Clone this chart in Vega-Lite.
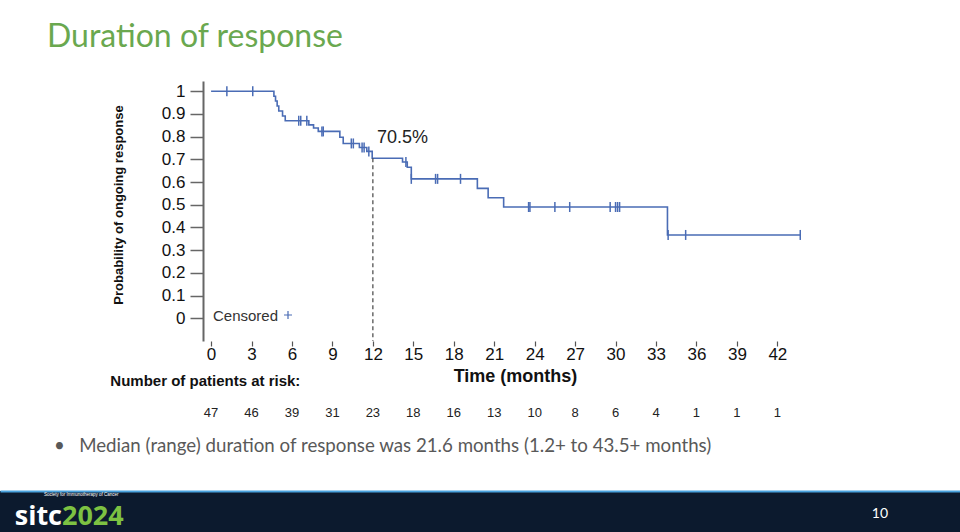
{
  "$schema": "https://vega.github.io/schema/vega-lite/v6.json",
  "background": "white",
  "padding": {"left": 0, "right": 0, "top": 21, "bottom": 0},
  "autosize": {"type": "pad"},
  "config": {"view": {"stroke": null}, "font": "Liberation Sans", "concat": {"spacing": 0}},
  "title": {"text": "Duration of response", "anchor": "start", "frame": "bounds", "dx": 47, "offset": 2, "fontSize": 32, "font": "Lato", "fontWeight": "normal", "color": "#6aa84f", "baseline": "alphabetic"},
  "datasets": {
    "km": [
      {"time": 0, "surv": 1}, {"time": 4.66, "surv": 0.978}, {"time": 4.78, "surv": 0.957}, {"time": 4.9, "surv": 0.935},
      {"time": 5.02, "surv": 0.913}, {"time": 5.3, "surv": 0.891}, {"time": 5.5, "surv": 0.87}, {"time": 7.25, "surv": 0.852},
      {"time": 7.6, "surv": 0.838}, {"time": 7.95, "surv": 0.823}, {"time": 9.55, "surv": 0.797}, {"time": 9.8, "surv": 0.77},
      {"time": 11.0, "surv": 0.752}, {"time": 11.55, "surv": 0.735}, {"time": 11.95, "surv": 0.705}, {"time": 14.2, "surv": 0.688},
      {"time": 14.55, "surv": 0.665}, {"time": 14.85, "surv": 0.614}, {"time": 19.75, "surv": 0.572}, {"time": 20.55, "surv": 0.531},
      {"time": 21.7, "surv": 0.49}, {"time": 33.85, "surv": 0.367}, {"time": 43.7, "surv": 0.367}
    ],
    "cens": [
      {"time": 1.17, "surv": 1, "status": "Censored"}, {"time": 3.09, "surv": 1, "status": "Censored"},
      {"time": 6.5, "surv": 0.87, "status": "Censored"}, {"time": 6.65, "surv": 0.87, "status": "Censored"}, {"time": 7.1, "surv": 0.87, "status": "Censored"},
      {"time": 8.22, "surv": 0.823, "status": "Censored"}, {"time": 8.32, "surv": 0.823, "status": "Censored"},
      {"time": 10.4, "surv": 0.77, "status": "Censored"}, {"time": 10.55, "surv": 0.77, "status": "Censored"},
      {"time": 11.2, "surv": 0.752, "status": "Censored"}, {"time": 11.35, "surv": 0.752, "status": "Censored"}, {"time": 11.7, "surv": 0.735, "status": "Censored"},
      {"time": 14.45, "surv": 0.688, "status": "Censored"}, {"time": 14.85, "surv": 0.614, "status": "Censored"},
      {"time": 16.65, "surv": 0.614, "status": "Censored"}, {"time": 16.8, "surv": 0.614, "status": "Censored"}, {"time": 18.5, "surv": 0.614, "status": "Censored"},
      {"time": 23.55, "surv": 0.49, "status": "Censored"}, {"time": 23.65, "surv": 0.49, "status": "Censored"}, {"time": 25.5, "surv": 0.49, "status": "Censored"},
      {"time": 26.6, "surv": 0.49, "status": "Censored"}, {"time": 29.6, "surv": 0.49, "status": "Censored"}, {"time": 30.0, "surv": 0.49, "status": "Censored"},
      {"time": 30.15, "surv": 0.49, "status": "Censored"}, {"time": 30.3, "surv": 0.49, "status": "Censored"},
      {"time": 33.9, "surv": 0.367, "status": "Censored"}, {"time": 35.2, "surv": 0.367, "status": "Censored"}, {"time": 43.7, "surv": 0.367, "status": "Censored"}
    ],
    "annot": [{"time": 12, "surv": 0.705, "label": "70.5%"}],
    "risk": [
      {"time": 0, "n": 47}, {"time": 3, "n": 46}, {"time": 6, "n": 39}, {"time": 9, "n": 31}, {"time": 12, "n": 23},
      {"time": 15, "n": 18}, {"time": 18, "n": 16}, {"time": 21, "n": 13}, {"time": 24, "n": 10}, {"time": 27, "n": 8},
      {"time": 30, "n": 6}, {"time": 33, "n": 4}, {"time": 36, "n": 1}, {"time": 39, "n": 1}, {"time": 42, "n": 1}
    ],
    "footer": [
      {"slot": "logo", "part": "sitc"}, {"slot": "logo", "part": "2024"},
      {"slot": "logo", "part": "Society for Immunotherapy of Cancer"}, {"slot": "page", "part": "10"}
    ]
  },
  "resolve": {"scale": {"x": "independent", "y": "independent", "color": "independent"}},
  "spacing": 14,
  "vconcat": [
    {
      "spacing": 0,
      "resolve": {"scale": {"x": "independent", "y": "independent"}},
      "hconcat": [
        {"width": 110, "height": 10, "data": {"values": []}, "mark": "point", "encoding": {}},
        {
          "bounds": "flush",
          "spacing": 62,
          "vconcat": [
            {
              "width": 604,
              "height": 260,
              "encoding": {
                "x": {"field": "time", "type": "quantitative",
                  "scale": {"domain": [-0.6, 44.2], "nice": false, "zero": false},
                  "axis": {"values": [0, 3, 6, 9, 12, 15, 18, 21, 24, 27, 30, 33, 36, 39, 42], "domain": false, "grid": false,
                    "tickSize": 5, "tickColor": "#555", "tickWidth": 1.2, "labelFontSize": 17, "labelColor": "#111", "labelPadding": 0,
                    "title": "Time (months)", "titleFontSize": 18, "titleFontWeight": "bold", "titleColor": "#111",
                    "titleX": 312, "titleY": 35, "titleAlign": "center", "titleBaseline": "middle"}},
                "y": {"field": "surv", "type": "quantitative",
                  "scale": {"domain": [-0.1, 1.045], "nice": false, "zero": false},
                  "axis": {"values": [0, 0.1, 0.2, 0.3, 0.4, 0.5, 0.6, 0.7, 0.8, 0.9, 1], "format": "~g", "grid": false, "labelOverlap": false,
                    "domainColor": "#666", "domainWidth": 2, "tickSize": 13, "tickColor": "#666", "tickWidth": 1.5,
                    "labelFontSize": 17, "labelColor": "#111", "labelPadding": 5,
                    "title": "Probability of ongoing response", "titleFont": "Liberation Sans",
                    "titleFontSize": 13, "titleFontWeight": "bold", "titleColor": "#111",
                    "titleX": -84.7, "titleY": 123.5, "titleAngle": -90, "titleAlign": "center", "titleBaseline": "middle"}}
              },
              "layer": [
                {
                  "data": {"name": "km"},
                  "mark": {"type": "line", "interpolate": "step-after", "color": "#4a6cb5", "strokeWidth": 1.6}
                },
                {
                  "data": {"name": "annot"},
                  "mark": {"type": "rule", "strokeDash": [4, 3], "color": "#444", "strokeWidth": 1.2},
                  "encoding": {"y2": {"datum": -0.1}}
                },
                {
                  "data": {"name": "annot"},
                  "mark": {"type": "text", "align": "left", "baseline": "middle", "dx": 4, "dy": -20, "fontSize": 18, "color": "#222"},
                  "encoding": {"text": {"field": "label"}}
                },
                {
                  "data": {"name": "cens"},
                  "mark": {"type": "point", "shape": "M0,-1V1", "size": 100, "filled": false, "strokeWidth": 1.5, "opacity": 1},
                  "encoding": {
                    "color": {"field": "status", "type": "nominal", "scale": {"range": ["#4a6cb5"]},
                      "legend": {"title": "Censored", "titleOrient": "left", "titleFontSize": 15, "titleFontWeight": "normal", "titleColor": "#333",
                        "titlePadding": 4, "titleBaseline": "middle",
                        "orient": "none", "legendX": 213, "legendY": 229, "padding": 0,
                        "symbolType": "M-1,0H1M0,-1V1", "symbolSize": 64, "symbolStrokeWidth": 1.2, "symbolStrokeColor": "#8ea3d4",
                        "labelExpr": "''", "labelFontSize": 1, "labelOffset": 0}}
                  }
                }
              ]
            },
            {
              "width": 604,
              "height": 20,
              "data": {"name": "risk"},
              "title": {"text": "Number of patients at risk:", "anchor": "start", "frame": "group", "dx": -92.7, "offset": 14,
                "fontSize": 15, "fontWeight": "bold", "color": "#111", "font": "Liberation Sans"},
              "mark": {"type": "text", "fontSize": 13, "color": "#222", "baseline": "middle"},
              "encoding": {
                "x": {"field": "time", "type": "quantitative", "scale": {"domain": [-0.6, 44.2], "nice": false, "zero": false}, "axis": null},
                "text": {"field": "n", "type": "quantitative"}
              }
            }
          ]
        }
      ]
    },
    {
      "width": 960,
      "height": 42,
      "view": {"fill": "#0c1a2e", "stroke": null},
      "data": {"name": "footer"},
      "title": {"text": "•\u00a0\u00a0\u00a0Median (range) duration of response was 21.6 months (1.2+ to 43.5+ months)",
        "anchor": "start", "frame": "group", "dx": 54, "offset": 16, "fontSize": 18.7, "font": "Lato", "fontWeight": "normal",
        "color": "#595959", "baseline": "bottom"},
      "encoding": {
        "x": {"field": "slot", "type": "nominal",
          "scale": {"type": "point", "domain": ["logo", "page"], "padding": 0.0868, "align": 0.4366},
          "axis": {"orient": "top", "labels": false, "ticks": false, "title": null, "domainColor": "#4aa3df", "domainWidth": 2}}
      },
      "layer": [
        {"transform": [{"filter": "datum.part === 'sitc'"}],
          "mark": {"type": "text", "align": "right", "baseline": "alphabetic", "dy": 13, "fontSize": 27, "font": "Open Sans", "fontWeight": "bold", "color": "#ffffff"},
          "encoding": {"text": {"field": "part"}}},
        {"transform": [{"filter": "datum.part === '2024'"}],
          "mark": {"type": "text", "align": "left", "baseline": "alphabetic", "dy": 13, "fontSize": 27, "font": "Open Sans", "fontWeight": "bold", "color": "#7dc242"},
          "encoding": {"text": {"field": "part"}}},
        {"transform": [{"filter": "datum.part === 'Society for Immunotherapy of Cancer'"}],
          "mark": {"type": "text", "align": "left", "baseline": "middle", "dx": -18, "dy": -17, "fontSize": 4.5, "color": "#ffffff"},
          "encoding": {"text": {"field": "part"}}},
        {"transform": [{"filter": "datum.part === '10'"}],
          "mark": {"type": "text", "align": "center", "baseline": "middle", "dy": 2, "fontSize": 14, "font": "Lato", "color": "#ffffff"},
          "encoding": {"text": {"field": "part"}}}
      ]
    }
  ]
}
